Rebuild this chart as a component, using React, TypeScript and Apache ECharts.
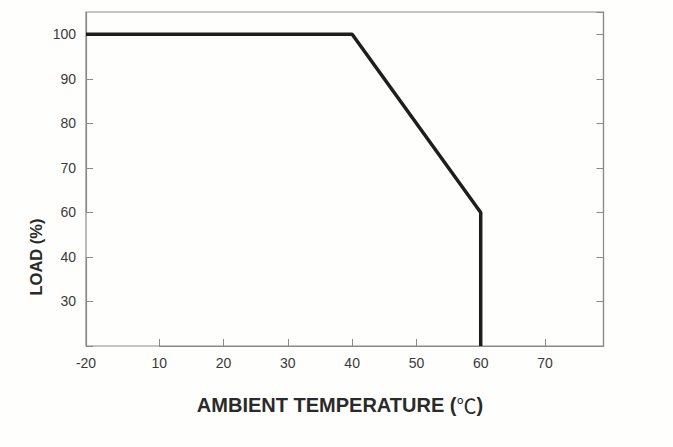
import React, { useEffect, useRef } from "react";
import * as echarts from "echarts";

// Derating curve: ambient temperature (°C) vs load (%)
const temperatures = [-20, 40, 60, 60];
const loads = [100, 100, 60, 20];

const xTicks = [-20, 10, 20, 30, 40, 50, 60, 70];
const yTicks = [30, 40, 60, 70, 80, 90, 100];

const xNameMain = "AMBIENT TEMPERATURE (";
const xNameUnit = "℃";
const xNameEnd = ")";
const yName = "LOAD (%)";

export default function App() {
  const ref = useRef<HTMLDivElement>(null);
  useEffect(() => {
    if (!ref.current) return;
    const chart = echarts.init(ref.current, null, { renderer: "svg" });
    const axisColor = "#8a8a8a";
    const font = "Liberation Sans, Arial, sans-serif";
    const labelStyle = {
      color: "#3a3a3a",
      fontSize: 14,
      fontFamily: font,
    };
    const yAxisBase = {
      type: "value" as const,
      min: 20,
      max: 105,
      interval: 10,
      breaks: [{ start: 40, end: 60, gap: 10 }],
      breakArea: { show: false },
      splitLine: { show: false },
      axisLine: { show: true, onZero: false, lineStyle: { color: axisColor, width: 1.2 } },
    };
    chart.setOption({
      animation: false,
      backgroundColor: "#fefefc",
      grid: {
        left: 86,
        right: 69.5,
        top: 12,
        bottom: 101,
        show: true,
        borderColor: axisColor,
        borderWidth: 1.2,
      },
      xAxis: {
        type: "value",
        min: -20,
        max: 79.1,
        interval: 10,
        breaks: [{ start: -20, end: 10, gap: 11.4 }],
        breakArea: { show: false },
        splitLine: { show: false },
        axisLine: { show: true, onZero: false, lineStyle: { color: axisColor, width: 1.2 } },
        axisTick: { show: true, inside: true, length: 7, lineStyle: { color: axisColor } },
        axisLabel: {
          ...labelStyle,
          margin: 10,
          showMaxLabel: false,
          formatter: (v: number) => (xTicks.includes(Math.round(v)) ? String(Math.round(v)) : ""),
        },
      },
      yAxis: [
        {
          ...yAxisBase,
          position: "left",
          axisTick: { show: true, inside: true, length: 7, lineStyle: { color: axisColor } },
          axisLabel: {
            ...labelStyle,
            margin: 10,
            showMaxLabel: false,
            formatter: (v: number) => (yTicks.includes(Math.round(v)) ? String(Math.round(v)) : ""),
          },
        },
        {
          ...yAxisBase,
          position: "right",
          axisTick: { show: true, inside: true, length: 7, lineStyle: { color: axisColor } },
          axisLabel: { show: false },
        },
      ],
      graphic: [
        {
          type: "text",
          x: 340,
          y: 405,
          style: {
            text: `${xNameMain}{u|${xNameUnit}}${xNameEnd}`,
            fontSize: 20,
            fontWeight: "bold",
            fontFamily: font,
            fill: "#2a2a2a",
            align: "center",
            verticalAlign: "middle",
            rich: {
              u: {
                fontSize: 20,
                fontWeight: "normal",
                fontFamily: "Noto Sans CJK SC, sans-serif",
                fill: "#2a2a2a",
              },
            },
          },
        },
        {
          type: "text",
          x: 36,
          y: 257,
          rotation: Math.PI / 2,
          style: {
            text: yName,
            fontSize: 16.5,
            fontWeight: "bold",
            fontFamily: font,
            fill: "#2a2a2a",
            align: "center",
            verticalAlign: "middle",
          },
        },
      ],
      series: [
        {
          type: "line",
          data: temperatures.map((t, i) => [t, loads[i]]),
          symbol: "none",
          lineStyle: { color: "#1e1e1e", width: 3.5 },
          clip: true,
        },
      ],
    });
    return () => chart.dispose();
  }, []);
  return (
    <div
      ref={ref}
      style={{ position: "absolute", left: 0, top: 0, width: 673, height: 447 }}
    />
  );
}
